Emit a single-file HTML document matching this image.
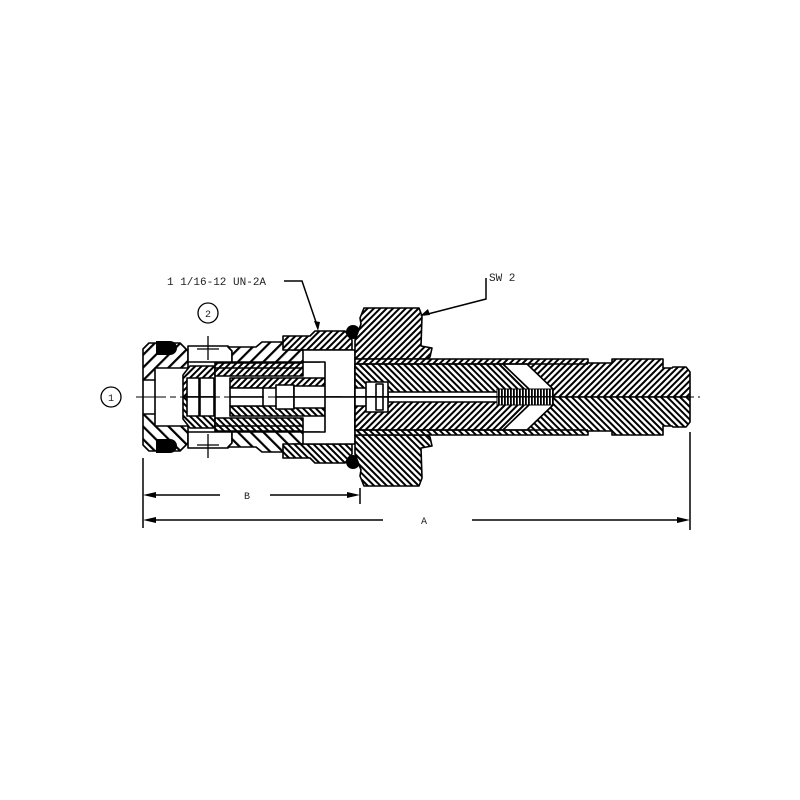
<!DOCTYPE html>
<html><head><meta charset="utf-8"><style>
html,body{margin:0;padding:0;background:#fff;}
svg{display:block;}
text{font-family:"Liberation Mono",monospace;fill:#222;}
</style></head><body>
<svg width="800" height="800" viewBox="0 0 800 800" xmlns="http://www.w3.org/2000/svg">
<defs>
<pattern id="hf" patternUnits="userSpaceOnUse" width="4.5" height="4.5" patternTransform="rotate(45)">
<rect width="4.5" height="4.5" fill="#fff"/><rect width="2" height="4.5" fill="#000"/></pattern>
<pattern id="hb" patternUnits="userSpaceOnUse" width="4.5" height="4.5" patternTransform="rotate(-45)">
<rect width="4.5" height="4.5" fill="#fff"/><rect width="2" height="4.5" fill="#000"/></pattern>
<pattern id="hw" patternUnits="userSpaceOnUse" width="9" height="9" patternTransform="rotate(45)">
<rect width="9" height="9" fill="#fff"/><rect width="2.2" height="9" fill="#000"/></pattern>
<pattern id="spr" patternUnits="userSpaceOnUse" width="3" height="16">
<rect width="3" height="16" fill="#fff"/><rect width="1.8" height="16" fill="#000"/></pattern>
<g id="top" stroke="#000" stroke-width="1.6" stroke-linejoin="round">
 <!-- front cap -->
 <path d="M149,343 L180,343 L188,351 L188,368 L155,368 L155,380 L143,380 L143,349 Z" fill="url(#hw)"/>
 <line x1="143" y1="380" x2="143" y2="397"/>
 <line x1="155" y1="380" x2="155" y2="397"/>
 <path d="M156,341 L170,341 A7,7 0 0 1 170,355 L156,355 Z" fill="#000" stroke="none"/>
 <!-- port 2 area -->
 <path d="M188,346 L228,346 L232,351 L232,362 L188,362 Z" fill="#fff"/>
 <!-- middle body -->
 <path d="M228,347 L256,347 L262,342 L285,342 L292,350 L320,350 L320,362 L232,362 L232,351 Z" fill="url(#hw)"/>
 <!-- inner cage -->
 <path d="M183,375 L190,366 L215,366 L215,397 L183,397 Z" fill="url(#hf)"/>
 <rect x="187" y="378" width="12" height="19" fill="#fff"/>
 <rect x="200" y="378" width="14" height="19" fill="#fff"/>
 <rect x="215" y="363" width="88" height="13" fill="url(#hf)"/>
 <line x1="215" y1="368" x2="303" y2="368"/>
 <rect x="230" y="378" width="95" height="10" fill="url(#hf)"/>
 <rect x="230" y="388" width="33" height="9" fill="#fff"/>
 <rect x="276" y="385" width="18" height="12" fill="#fff"/>
 <rect x="294" y="386" width="47" height="11" fill="#fff"/>
 <!-- union nut -->
 <path d="M283,336 L310,336 L315,331 L345,331 L352,340 L352,350 L283,350 Z" fill="url(#hf)"/>
 <path d="M303,350 L355,350 L355,397 L325,397 L325,362 L303,362 Z" fill="#fff"/>
 <circle cx="353" cy="332" r="7" fill="#000" stroke="none"/>
 <!-- hex nut -->
 <path d="M364,308 L419,308 L422,316 L421,346 L432,348 L430,357 L427,359 L355,359 L355,340 L361,324 L360,318 Z" fill="url(#hf)"/>
 <!-- main body -->
 <path d="M355,359 L588,359 L588,363 L612,363 L612,359 L663,359 L663,368 L672,368 L673,367 L686,367 L690,372 L690,397 L355,397 Z" fill="url(#hf)"/>
 <!-- inner sleeve -->
 <path d="M355,364 L503,364 L530,390 L530,397 L355,397 Z" fill="url(#hb)"/>
 <path d="M503,364 L527,364 L553,389 L553,397 L530,397 L530,390 Z" fill="#fff"/>
 <line x1="355" y1="364" x2="588" y2="364"/>
 <rect x="388" y="392" width="110" height="5" fill="#fff"/>
 <rect x="355" y="388" width="22" height="9" fill="#fff"/>
 <rect x="366" y="382" width="22" height="15" fill="#fff"/>
 <rect x="376" y="384" width="7" height="13" fill="#fff"/>
 <rect x="497" y="389" width="56" height="8" fill="url(#spr)" stroke-width="1"/>
</g>
</defs>
<rect width="800" height="800" fill="#fff"/>
<use href="#top"/>
<use href="#top" transform="translate(0,794) scale(1,-1)"/>
<g stroke="#000" fill="none" stroke-width="1.3">
 <line x1="208" y1="336" x2="208" y2="360"/>
 <line x1="208" y1="434" x2="208" y2="458"/>
 <line x1="197" y1="349" x2="219" y2="349"/>
 <line x1="197" y1="445" x2="219" y2="445"/>
 <line x1="136" y1="397" x2="700" y2="397" stroke-dasharray="30,4,6,4" stroke-width="1"/>
</g>
<text x="167" y="285" font-size="11">1 1/16-12 UN-2A</text>
<text x="489" y="281" font-size="11">SW 2</text>
<g stroke="#000" stroke-width="1.5" fill="none">
 <polyline points="284,281 302,281 318,328"/>
 <polyline points="486,278 486,299 424,315"/>
 <circle cx="208" cy="313" r="10" stroke-width="1.3"/>
 <circle cx="111" cy="397" r="10" stroke-width="1.3"/>
 <line x1="143" y1="458" x2="143" y2="528"/>
 <line x1="360" y1="488" x2="360" y2="504"/>
 <line x1="690" y1="432" x2="690" y2="530"/>
 <line x1="150" y1="495" x2="220" y2="495"/>
 <line x1="270" y1="495" x2="352" y2="495"/>
 <line x1="150" y1="520" x2="383" y2="520"/>
 <line x1="472" y1="520" x2="682" y2="520"/>
</g>
<g fill="#000">
 <polygon points="143,495 156,492 156,498"/>
 <polygon points="360,495 347,492 347,498"/>
 <polygon points="143,520 156,517 156,523"/>
 <polygon points="690,520 677,517 677,523"/>
 <polygon points="318,331 314,321 320,322"/>
 <polygon points="420,316 428,309 430,315"/>
</g>
<text x="208" y="317" font-size="10" text-anchor="middle">2</text>
<text x="111" y="401" font-size="10" text-anchor="middle">1</text>
<text x="247" y="499" font-size="10" text-anchor="middle">B</text>
<text x="424" y="524" font-size="10" text-anchor="middle">A</text>
</svg>
</body></html>
